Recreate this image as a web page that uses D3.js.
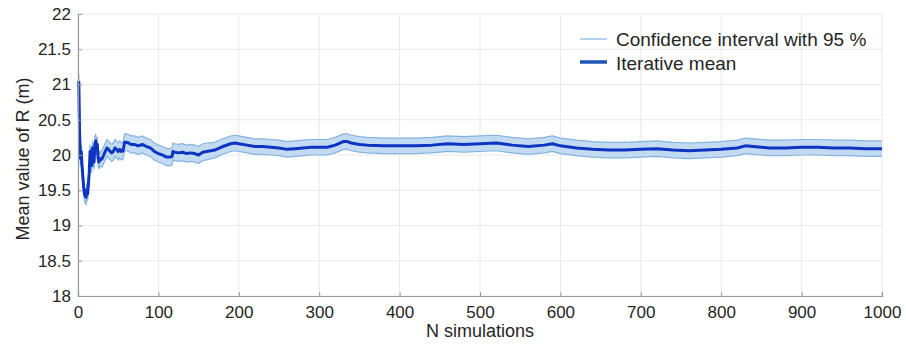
<!DOCTYPE html>
<html>
<head>
<meta charset="utf-8">
<script src="https://cdn.jsdelivr.net/npm/d3@7"></script>
<style>
  body { margin: 0; background: #fff; }
  text { font-family: "Liberation Sans", Arial, sans-serif; fill: #262626; }
</style>
</head>
<body>
<div id="chart"></div>
<script>
// number of simulations (x values)
const nSims = [
  1,2,3,4,5,6,7,8,9,10,11,12,13,14,15,16,17,18,19,20,21,22,23,24,25,26,27,28,
  30,32,34,36,38,40,42,44,46,48,50,52,54,56,58,60,
  63,66,
  70,75,80,85,90,95,100,105,110,115,
  117,118,
  120,125,130,135,140,145,150,155,160,
  170,180,190,195,
  200,210,220,230,240,250,260,270,280,290,300,310,320,330,
  335,340,350,360,
  380,400,420,440,460,480,500,520,540,560,580,
  590,
  600,620,640,660,680,700,720,740,760,780,800,820,
  830,
  840,860,880,900,920,940,960,980,1000
];

// iterative mean of R (m)
const meanR = [
  21.05,20.3,19.95,20.05,19.85,19.7,19.55,19.45,19.42,19.4,19.5,19.45,19.6,19.75,20.05,19.9,19.85,20.1,19.95,19.9,20.15,20.2,20.1,20.15,19.95,19.9,19.95,19.93,
  19.95,20.0,20.05,20.1,20.08,20.05,20.03,20.05,20.1,20.08,20.05,20.08,20.05,20.06,20.18,20.18,
  20.17,20.15,
  20.15,20.13,20.15,20.12,20.1,20.05,20.02,20.0,19.97,19.97,
  19.98,20.05,
  20.04,20.03,20.04,20.02,20.03,20.02,20.0,20.04,20.05,
  20.07,20.12,20.16,20.17,
  20.16,20.14,20.12,20.12,20.11,20.1,20.08,20.09,20.1,20.11,20.11,20.11,20.14,20.19,
  20.19,20.17,20.15,20.14,
  20.13,20.13,20.13,20.14,20.16,20.15,20.16,20.17,20.14,20.12,20.14,
  20.16,
  20.13,20.1,20.08,20.07,20.07,20.08,20.09,20.07,20.06,20.07,20.08,20.1,
  20.13,
  20.12,20.1,20.1,20.11,20.11,20.1,20.1,20.09,20.09
];

// half width of the 95 % confidence interval
const ciHalf = [
  0.1,0.1,0.1,0.1,0.1,0.1,0.1,0.1,0.1,0.1,0.1,0.1,0.1,0.1,0.1,0.1,0.1,0.1,0.1,0.1,0.1,0.1,0.1,0.1,0.1,0.1,0.1,0.1,
  0.12,0.12,0.12,0.12,0.12,0.12,0.12,0.12,0.12,0.12,0.12,0.12,0.12,0.12,0.12,0.12,
  0.12,0.12,
  0.12,0.12,0.12,0.12,0.12,0.12,0.12,0.12,0.12,0.12,
  0.12,0.12,
  0.12,0.12,0.12,0.12,0.12,0.12,0.12,0.12,0.12,
  0.11,0.11,0.11,0.11,
  0.11,0.11,0.11,0.11,0.11,0.11,0.11,0.11,0.11,0.11,0.11,0.11,0.11,0.11,
  0.11,0.11,0.11,0.11,
  0.11,0.11,0.11,0.11,0.11,0.11,0.11,0.11,0.11,0.11,0.11,
  0.11,
  0.11,0.11,0.11,0.11,0.11,0.11,0.11,0.11,0.11,0.11,0.11,0.11,
  0.11,
  0.11,0.11,0.11,0.11,0.11,0.11,0.11,0.11,0.11
];

const xTicks = [0,100,200,300,400,500,600,700,800,900,1000];
const yTicks = [18,18.5,19,19.5,20,20.5,21,21.5,22];
const legendLabels = ["Confidence interval with 95 %", "Iterative mean"];

// set the dimensions and margins of the graph
const margin = {top: 14, right: 24, bottom: 54, left: 78},
    width = 906 - margin.left - margin.right,
    height = 350 - margin.top - margin.bottom;

const svg = d3.select("#chart")
.append("svg")
    .attr("width", width + margin.left + margin.right)
    .attr("height", height + margin.top + margin.bottom)
.append("g")
    .attr("transform", `translate(${margin.left}, ${margin.top})`);

const data = nSims.map((n, i) => ({n: n, m: meanR[i], lo: meanR[i] - ciHalf[i], hi: meanR[i] + ciHalf[i]}));

const x = d3.scaleLinear().domain([0, 1000]).range([0, width]);
const y = d3.scaleLinear().domain([18, 22]).range([height, 0]);

// grid
svg.append("g")
    .selectAll("line")
    .data(xTicks)
    .join("line")
    .attr("x1", d => x(d)).attr("x2", d => x(d))
    .attr("y1", 0).attr("y2", height)
    .attr("stroke", "#e8e8e8");
svg.append("g")
    .selectAll("line")
    .data(yTicks)
    .join("line")
    .attr("x1", 0).attr("x2", width)
    .attr("y1", d => y(d)).attr("y2", d => y(d))
    .attr("stroke", "#e8e8e8");

// confidence band
svg.append("path")
    .datum(data)
    .attr("fill", "#c3dbf2")
    .attr("d", d3.area().x(d => x(d.n)).y0(d => y(d.lo)).y1(d => y(d.hi)));

["lo", "hi"].forEach(k => {
    svg.append("path")
        .datum(data)
        .attr("fill", "none")
        .attr("stroke", "#84b3e0")
        .attr("stroke-width", 1.2)
        .attr("d", d3.line().x(d => x(d.n)).y(d => y(d[k])));
});

// iterative mean
svg.append("path")
    .datum(data)
    .attr("fill", "none")
    .attr("stroke", "#0d35c2")
    .attr("stroke-width", 3)
    .attr("stroke-linejoin", "round")
    .attr("d", d3.line().x(d => x(d.n)).y(d => y(d.m)));

// axes
const xAxis = svg.append("g")
    .attr("transform", `translate(0, ${height})`)
    .call(d3.axisBottom(x).tickValues(xTicks).tickSize(-4).tickPadding(10).tickFormat(d3.format("d")));
const yAxis = svg.append("g")
    .call(d3.axisLeft(y).tickValues(yTicks).tickSize(-4).tickPadding(7).tickFormat(d => d));

[xAxis, yAxis].forEach(a => {
    a.select(".domain").attr("stroke", "#999").attr("stroke-width", 1.2);
    a.selectAll(".tick line").attr("stroke", "#999");
    a.selectAll(".tick text")
        .style("font-family", '"Liberation Sans", Arial, sans-serif')
        .style("font-size", "17px")
        .attr("fill", "#262626");
});

// axis labels
svg.append("text")
    .attr("x", width / 2)
    .attr("y", height + 41)
    .attr("text-anchor", "middle")
    .style("font-size", "18px")
    .text("N simulations");

svg.append("text")
    .attr("transform", `translate(${-margin.left + 29}, ${height / 2 + 4}) rotate(-90)`)
    .attr("text-anchor", "middle")
    .style("font-size", "18px")
    .text("Mean value of R (m)");

// legend
const legend = svg.append("g").attr("transform", `translate(${580 - margin.left}, ${39 - margin.top})`);
legend.append("line")
    .attr("x1", 0).attr("x2", 27).attr("y1", 0).attr("y2", 0)
    .attr("stroke", "#9cc4ea").attr("stroke-width", 1.5);
legend.append("line")
    .attr("x1", 0).attr("x2", 27).attr("y1", 23).attr("y2", 23)
    .attr("stroke", "#1f56b8").attr("stroke-width", 3.5);
legend.selectAll(".lab")
    .data(legendLabels)
    .join("text")
    .attr("class", "lab")
    .attr("x", 36)
    .attr("y", (d, i) => 7 + i * 24)
    .style("font-size", "19px")
    .text(d => d);
</script>
</body>
</html>
